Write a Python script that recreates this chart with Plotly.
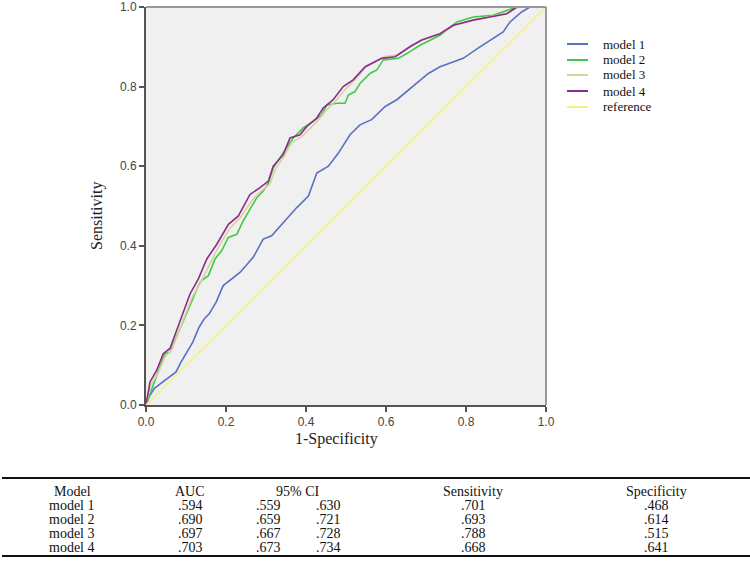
import plotly.graph_objects as go

# ---- ROC curve data ----
m1_x = [0, .008, .021, .0375, .058, .075, .0875, .104, .117, .133, .146, .158, .175, .193, .235, .268, .293, .314,
        .3475, .377, .406, .427, .456, .481, .51, .535, .564, .598, .627, .668, .706, .735, .793, .835, .893, .91,
        .939, .96, 1.0]
m1_y = [0, .021, .042, .054, .071, .083, .108, .1375, .158, .196, .217, .229, .258, .3, .333, .371, .417, .425,
        .4625, .496, .525, .583, .6, .633, .679, .704, .717, .75, .767, .8, .833, .85, .871, .9, .9375, .9625,
        .9875, 1.0, 1.0]

m2_x = [0, .005, .01, .0225, .035, .0475, .06, .0725, .089, .11, .131, .139, .156, .1725, .189, .206, .227, .243,
        .26, .277, .293, .306, .318, .335, .356, .368, .393, .418, .439, .452, .477, .4975, .506, .5225, .535, .56,
        .577, .593, .631, .652, .685, .735, .777, .818, .868, .902, .927, 1.0]
m2_y = [0, .015, .029, .0625, .096, .129, .133, .1625, .204, .254, .3, .3125, .325, .367, .3875, .421, .429, .4625,
        .49, .521, .5375, .558, .596, .621, .654, .671, .696, .7125, .729, .754, .758, .758, .779, .7875, .808, .833,
        .842, .867, .871, .883, .904, .929, .9625, .975, .979, .992, 1.0, 1.0]

m3_x = [0, .006, .012, .03, .047, .065, .08, .097, .115, .135, .157, .18, .21, .235, .255, .27, .29, .31, .322, .345,
        .365, .39, .41, .43, .45, .475, .5, .525, .55, .57, .595, .63, .665, .7, .74, .775, .82, .865, .905, .93, 1.0]
m3_y = [0, .025, .05, .08, .12, .14, .18, .22, .27, .305, .35, .395, .445, .47, .5, .52, .54, .555, .59, .625, .66,
        .675, .695, .715, .74, .765, .795, .82, .85, .86, .875, .88, .905, .92, .935, .955, .968, .977, .985, 1.0, 1.0]

m4_x = [0, .005, .01, .027, .043, .06, .077, .093, .11, .131, .152, .177, .206, .231, .252, .26, .285, .306, .318,
        .343, .36, .385, .402, .427, .443, .468, .493, .518, .548, .564, .589, .623, .66, .689, .735, .768, .818,
        .86, .902, .927, 1.0]
m4_y = [0, .03, .058, .0875, .129, .142, .1875, .229, .279, .317, .367, .404, .454, .475, .5125, .529, .546, .5625,
        .6, .629, .671, .679, .7, .721, .746, .767, .8, .817, .85, .858, .871, .875, .9, .917, .933, .954, .967,
        .975, .983, 1.0, 1.0]

ref_x = [0, 1]
ref_y = [0, 1]

series_names = ["model 1", "model 2", "model 3", "model 4", "reference"]
series_colors = ["#5b70c2", "#3fcb45", "#d8d29e", "#8b2b8c", "#f8f27c"]

tick_vals = [0.0, 0.2, 0.4, 0.6, 0.8, 1.0]
tick_text = ["0.0", "0.2", "0.4", "0.6", "0.8", "1.0"]

# ---- table data ----
tbl_header = ["Model", "AUC", "95% CI", "Sensitivity", "Specificity"]
tbl_model = ["model 1", "model 2", "model 3", "model 4"]
tbl_auc = [".594", ".690", ".697", ".703"]
tbl_ci_lo = [".559", ".659", ".667", ".673"]
tbl_ci_hi = [".630", ".721", ".728", ".734"]
tbl_sens = [".701", ".693", ".788", ".668"]
tbl_spec = [".468", ".614", ".515", ".641"]

fig = go.Figure()
xs = [m1_x, m2_x, m3_x, m4_x, ref_x]
ys = [m1_y, m2_y, m3_y, m4_y, ref_y]
for name, col, x, y in zip(series_names, series_colors, xs, ys):
    fig.add_trace(go.Scatter(x=x, y=y, mode="lines", name=name, showlegend=False,
                             line=dict(color=col, width=1.6)))

W, H = 750, 577
L, R, T, B = 146, 204, 7, 172
pw, ph = W - L - R, H - T - B


def px(xp):
    return (xp - L) / pw


def py(yp):
    return (H - B - yp) / ph


serif = "Liberation Serif, Times New Roman, serif"
sans = "Liberation Sans, Arial, sans-serif"

axis_common = dict(range=[0, 1], tickvals=tick_vals, ticktext=tick_text,
                   showgrid=False, zeroline=False, ticks="outside", ticklen=5,
                   tickwidth=2, tickcolor="#555", showline=True, linewidth=2,
                   linecolor="#555", ticklabeloverflow="allow",
                   tickfont=dict(family=sans, size=12, color="#444"))

fig.update_layout(
    width=W, height=H,
    margin=dict(l=L, r=R, t=T, b=B, pad=0, autoexpand=False),
    paper_bgcolor="white",
    plot_bgcolor="#f0f0f0",
    showlegend=False,
    xaxis=dict(**axis_common),
    yaxis=dict(**axis_common),
)

shapes = []
# top and right frame
shapes.append(dict(type="line", xref="paper", yref="paper", x0=0, x1=1, y0=1, y1=1,
                   line=dict(color="#999", width=2)))
shapes.append(dict(type="line", xref="paper", yref="paper", x0=1, x1=1, y0=0, y1=1,
                   line=dict(color="#999", width=2)))
# table rules
shapes.append(dict(type="line", xref="paper", yref="paper", x0=px(2), x1=px(750), y0=py(478), y1=py(478),
                   line=dict(color="#111", width=2)))
shapes.append(dict(type="line", xref="paper", yref="paper", x0=px(2), x1=px(750), y0=py(556), y1=py(556),
                   line=dict(color="#111", width=2)))

ann = []


def text_at(t, x, y, size=14, color="#111", family=serif, xanchor="center", angle=0):
    ann.append(dict(text=t, x=px(x), y=py(y), xref="paper", yref="paper", showarrow=False,
                    xanchor=xanchor, yanchor="middle", textangle=angle,
                    font=dict(family=family, size=size, color=color)))


# manual legend
leg_y = [44, 60, 75, 91, 107]
for name, col, ly in zip(series_names, series_colors, leg_y):
    shapes.append(dict(type="line", xref="paper", yref="paper", x0=px(567), x1=px(588),
                       y0=py(ly), y1=py(ly), line=dict(color=col, width=2)))
    text_at(name, 601, ly, size=13, xanchor="left")

text_at("Sensitivity", 97, 216, size=16, color="#222", angle=-90)
text_at("1-Specificity", 336, 439, size=16, color="#222")

col_x = [72, 190, 298, 473, 656]
for t, cx in zip(tbl_header, col_x):
    text_at(t, cx, 491)
row_y = [505, 519, 533, 547]
for i, ry in enumerate(row_y):
    vals = [tbl_model[i], tbl_auc[i], tbl_ci_lo[i], tbl_ci_hi[i], tbl_sens[i], tbl_spec[i]]
    xs_ = [72, 190, 268, 328, 473, 656]
    for v, cx in zip(vals, xs_):
        text_at(v, cx, ry)

fig.update_layout(shapes=shapes, annotations=ann)
fig.write_html("out.html", config={"displayModeBar": False},
               post_script="document.body.style.margin='0px';")
